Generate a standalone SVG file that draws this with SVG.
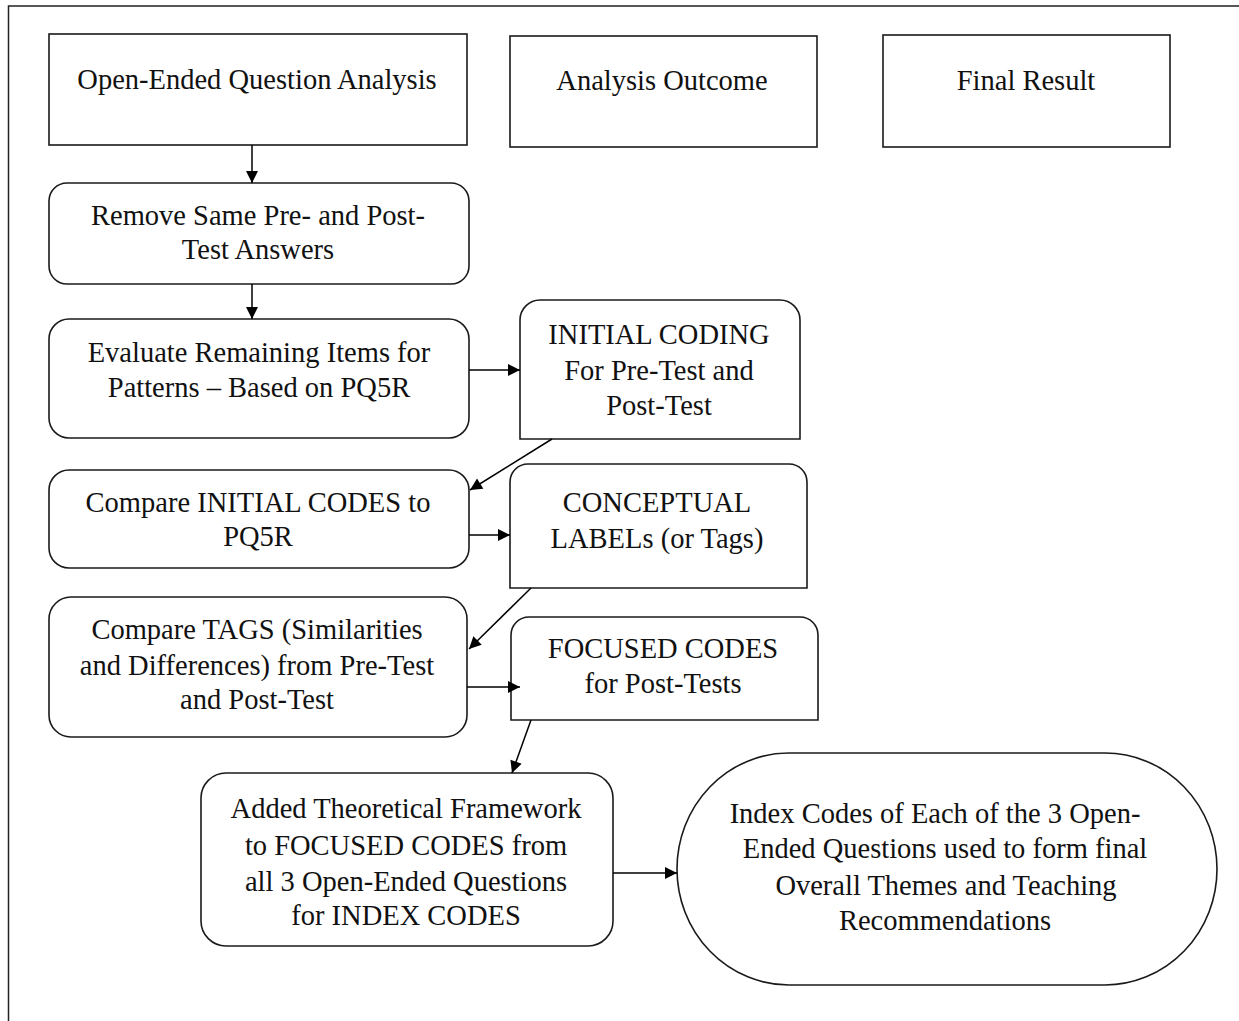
<svg xmlns="http://www.w3.org/2000/svg" width="1239" height="1021" viewBox="0 0 1239 1021">
<defs>
<style>
.b{fill:#fff;stroke:#1a1a1a;stroke-width:1.6}
.c{fill:none;stroke:#000;stroke-width:1.5}
.t text{font-size:28.5px;fill:#111;text-anchor:middle}
</style>
<marker id="ah" viewBox="0 0 12 12" refX="12" refY="6" markerWidth="13" markerHeight="12" markerUnits="userSpaceOnUse" orient="auto">
<path d="M0,0 L12,6 L0,12 Z" fill="#000"/>
</marker>
</defs>
<rect width="1239" height="1021" fill="#fff"/>
<rect x="8.5" y="6" width="1240" height="1030" fill="none" stroke="#222" stroke-width="1.5"/>

<g class="t" font-family="'Liberation Serif', 'Times New Roman', 'DejaVu Serif', serif">
<g id="n-open-ended">
<rect class="b" x="49" y="34" width="418" height="111"/>
<text x="257" y="89">Open-Ended Question Analysis</text>
</g>
<g id="n-analysis-outcome">
<rect class="b" x="510" y="36" width="307" height="111"/>
<text x="662" y="90">Analysis Outcome</text>
</g>
<g id="n-final-result">
<rect class="b" x="883" y="35" width="287" height="112"/>
<text x="1026" y="90">Final Result</text>
</g>
<g id="n-remove">
<rect class="b" x="49" y="183" width="420" height="101" rx="18"/>
<text x="258" y="225">Remove Same Pre- and Post-</text>
<text x="258" y="259">Test Answers</text>
</g>
<g id="n-evaluate">
<rect class="b" x="49" y="319" width="420" height="119" rx="20"/>
<text x="259" y="362">Evaluate Remaining Items for</text>
<text x="259" y="397">Patterns – Based on PQ5R</text>
</g>
<g id="n-initial-coding">
<path class="b" d="M520,439 V320 A20,20 0 0 1 540,300 H780 A20,20 0 0 1 800,320 V439 Z"/>
<text x="659" y="344">INITIAL CODING</text>
<text x="659" y="380">For Pre-Test and</text>
<text x="659" y="415">Post-Test</text>
</g>
<g id="n-compare-initial">
<rect class="b" x="49" y="470" width="420" height="98" rx="20"/>
<text x="258" y="512">Compare INITIAL CODES to</text>
<text x="258" y="546">PQ5R</text>
</g>
<g id="n-conceptual">
<path class="b" d="M510,588 V482 A18,18 0 0 1 528,464 H789 A18,18 0 0 1 807,482 V588 Z"/>
<text x="657" y="512">CONCEPTUAL</text>
<text x="657" y="548">LABELs (or Tags)</text>
</g>
<g id="n-compare-tags">
<rect class="b" x="49" y="597" width="418" height="140" rx="22"/>
<text x="257" y="639">Compare TAGS (Similarities</text>
<text x="257" y="675">and Differences) from Pre-Test</text>
<text x="257" y="709">and Post-Test</text>
</g>
<g id="n-focused">
<path class="b" d="M511,720 V635 A18,18 0 0 1 529,617 H800 A18,18 0 0 1 818,635 V720 Z"/>
<text x="663" y="658">FOCUSED CODES</text>
<text x="663" y="693">for Post-Tests</text>
</g>
<g id="n-added">
<rect class="b" x="201" y="773" width="412" height="173" rx="25"/>
<text x="406" y="818">Added Theoretical Framework</text>
<text x="406" y="855">to FOCUSED CODES from</text>
<text x="406" y="891">all 3 Open-Ended Questions</text>
<text x="406" y="925">for INDEX CODES</text>
</g>
<g id="n-index">
<rect class="b" x="677" y="753" width="540" height="232" rx="112" ry="116"/>
<text x="935" y="823">Index Codes of Each of the 3 Open-</text>
<text x="945" y="858">Ended Questions used to form final</text>
<text x="946" y="895">Overall Themes and Teaching</text>
<text x="945" y="930">Recommendations</text>
</g>
</g>

<g id="connectors">
<line class="c" x1="252" y1="145" x2="252" y2="183" marker-end="url(#ah)"/>
<line class="c" x1="252" y1="284" x2="252" y2="319" marker-end="url(#ah)"/>
<line class="c" x1="469" y1="370" x2="520" y2="370" marker-end="url(#ah)"/>
<line class="c" x1="552" y1="439" x2="470" y2="490" marker-end="url(#ah)"/>
<line class="c" x1="469" y1="535" x2="510" y2="535" marker-end="url(#ah)"/>
<line class="c" x1="531" y1="588" x2="469" y2="649" marker-end="url(#ah)"/>
<line class="c" x1="467" y1="687" x2="520" y2="687" marker-end="url(#ah)"/>
<line class="c" x1="531" y1="720" x2="512" y2="773" marker-end="url(#ah)"/>
<line class="c" x1="613" y1="873" x2="677" y2="873" marker-end="url(#ah)"/>
</g>
</svg>
